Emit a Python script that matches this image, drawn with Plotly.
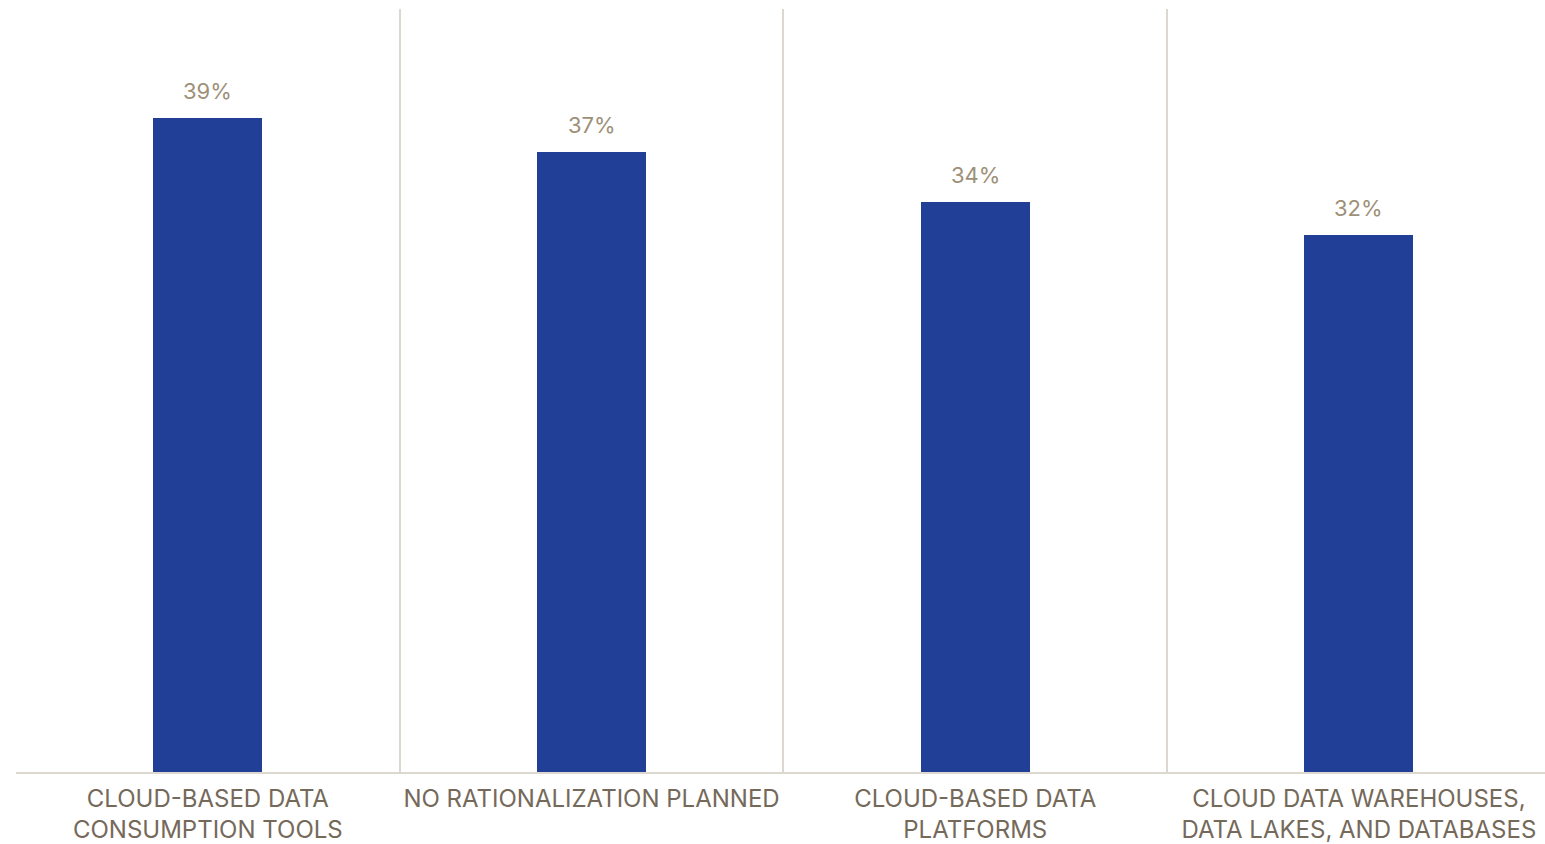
import plotly.graph_objects as go

categories = [
    "CLOUD-BASED DATA<br>CONSUMPTION TOOLS",
    "NO RATIONALIZATION PLANNED",
    "CLOUD-BASED DATA<br>PLATFORMS",
    "CLOUD DATA WAREHOUSES,<br>DATA LAKES, AND DATABASES",
]
values = [39, 37, 34, 32]
value_labels = [f"{v}%" for v in values]

BAR_COLOR = "#223f98"
GRID_COLOR = "#dcd8cf"
LABEL_COLOR = "#75695a"
VALUE_COLOR = "#9e9078"
FONT = "Inter, Roboto, sans-serif"

positions = list(range(len(categories)))

fig = go.Figure(
    go.Bar(
        x=positions,
        y=values,
        width=0.284,
        marker=dict(color=BAR_COLOR, line=dict(width=0)),
        hoverinfo="skip",
    )
)

for x, v, t in zip(positions, values, value_labels):
    fig.add_annotation(
        x=x, y=v, text=t, showarrow=False,
        yanchor="bottom", yshift=12,
        font=dict(family=FONT, size=22, color=VALUE_COLOR),
    )

fig.update_layout(
    width=1545,
    height=844,
    margin=dict(l=16, r=0, t=9, b=72),
    paper_bgcolor="white",
    plot_bgcolor="white",
    showlegend=False,
    font=dict(family=FONT, size=24, color=LABEL_COLOR),
    bargap=0,
)

fig.update_xaxes(
    range=[-0.5, 3.485],
    tickmode="array",
    tickvals=positions,
    ticktext=categories,
    automargin=False,
    showgrid=False,
    ticks="",
    showline=True,
    linecolor=GRID_COLOR,
    linewidth=2,
    zeroline=False,
    ticklabelstandoff=4,
    tickfont=dict(family=FONT, size=24, color=LABEL_COLOR),
    minor=dict(tick0=0.5, dtick=1, showgrid=True, gridcolor=GRID_COLOR, gridwidth=2, ticks=""),
)

fig.update_yaxes(
    range=[0, 45.5],
    automargin=False,
    showgrid=False,
    showticklabels=False,
    zeroline=False,
    showline=False,
    ticks="",
)

fig.write_html("out.html")
